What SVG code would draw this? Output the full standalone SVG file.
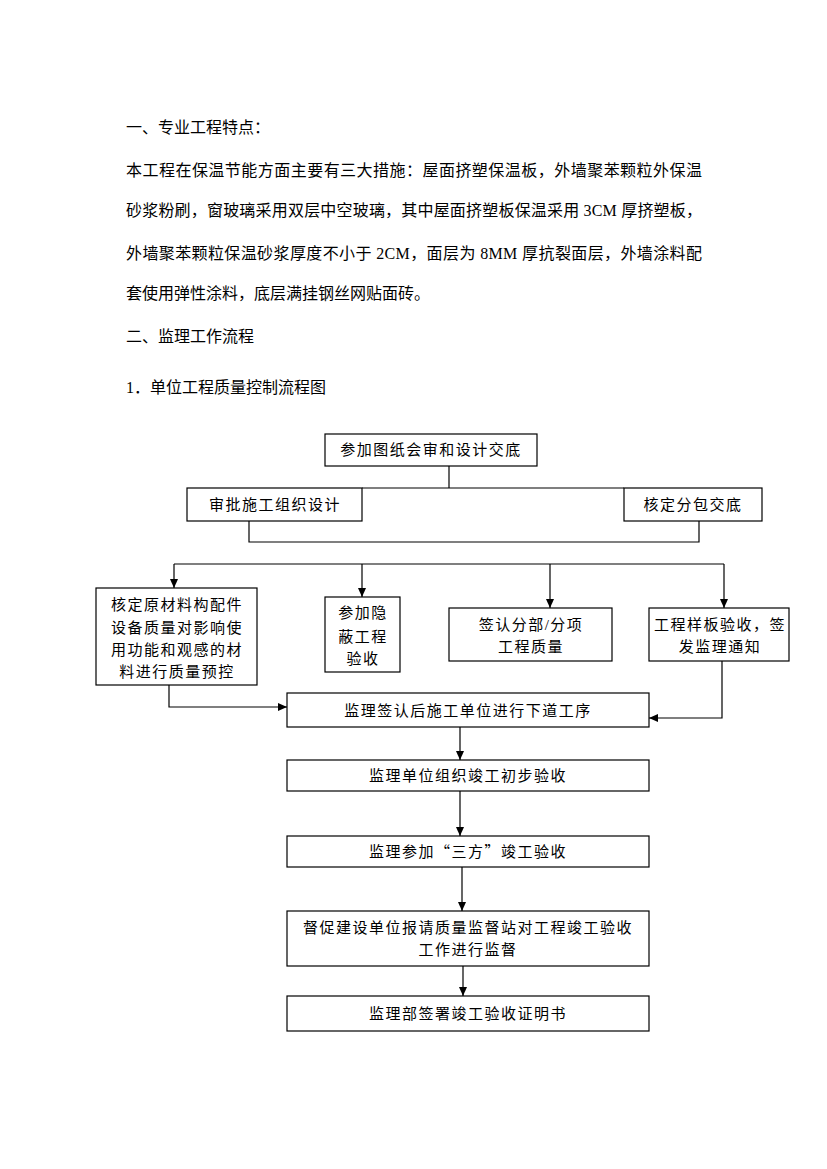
<svg xmlns="http://www.w3.org/2000/svg" width="827" height="1169" viewBox="0 0 827 1169">
<defs>
<marker id="arr" markerUnits="userSpaceOnUse" markerWidth="10" markerHeight="10" refX="9" refY="4" orient="auto">
<path d="M0,0 L9,4 L0,8 Z" fill="#000"/>
</marker>
<style>
.t{font-family:"Liberation Serif","Noto Sans CJK SC",serif;font-size:16px;fill:#000}
.n{font-family:"Liberation Serif","Noto Sans CJK SC",serif;font-size:15px;letter-spacing:1.5px;fill:#000;text-anchor:middle}
.q{font-family:"Noto Sans CJK SC",sans-serif}
.b{fill:#fff;stroke:#000;stroke-width:1.2}
.c{fill:none;stroke:#000;stroke-width:1.2}
.a{marker-end:url(#arr)}
</style>
</defs>
<rect width="827" height="1169" fill="#fff"/>
<g id="text">
<text class="t" x="126" y="133">一、专业工程特点：</text>
<text class="t" x="126" y="176" textLength="576" lengthAdjust="spacing">本工程在保温节能方面主要有三大措施：屋面挤塑保温板，外墙聚苯颗粒外保温</text>
<text class="t" x="126" y="216" textLength="576" lengthAdjust="spacing">砂浆粉刷，窗玻璃采用双层中空玻璃，其中屋面挤塑板保温采用 3CM 厚挤塑板，</text>
<text class="t" x="126" y="259" textLength="576" lengthAdjust="spacing">外墙聚苯颗粒保温砂浆厚度不小于 2CM，面层为 8MM 厚抗裂面层，外墙涂料配</text>
<text class="t" x="126" y="299">套使用弹性涂料，底层满挂钢丝网贴面砖。</text>
<text class="t" x="126" y="342">二、监理工作流程</text>
<text class="t" x="126" y="393">1．单位工程质量控制流程图</text>
</g>
<g id="connectors">
<line class="c" x1="449" y1="466" x2="449" y2="488"/>
<line class="c" x1="362" y1="488" x2="624" y2="488"/>
<polyline class="c" points="249,521 249,542 699,542 699,521"/>
<line class="c" x1="174" y1="564" x2="724" y2="564"/>
<line class="c a" x1="174" y1="564" x2="174" y2="588"/>
<line class="c a" x1="362" y1="564" x2="362" y2="597"/>
<line class="c a" x1="550" y1="564" x2="550" y2="608"/>
<line class="c a" x1="724" y1="564" x2="724" y2="608"/>
<polyline class="c a" points="169,685 169,707 287,707"/>
<polyline class="c a" points="722,661 722,718 649,718"/>
<line class="c a" x1="460" y1="727" x2="460" y2="760"/>
<line class="c a" x1="460" y1="791" x2="460" y2="836"/>
<line class="c a" x1="462" y1="867" x2="462" y2="911"/>
<line class="c a" x1="463" y1="966" x2="463" y2="996"/>
</g>
<g id="n1"><rect class="b" x="325" y="434" width="212" height="32"/><text class="n" x="431" y="455">参加图纸会审和设计交底</text></g>
<g id="n2"><rect class="b" x="187" y="488" width="175" height="33"/><text class="n" x="275" y="510">审批施工组织设计</text></g>
<g id="n3"><rect class="b" x="624" y="488" width="138" height="33"/><text class="n" x="693" y="510">核定分包交底</text></g>
<g id="n4"><rect class="b" x="96" y="588" width="161" height="97"/>
<text class="n" x="177" y="610">核定原材料构配件</text>
<text class="n" x="177" y="633">设备质量对影响使</text>
<text class="n" x="177" y="655">用功能和观感的材</text>
<text class="n" x="177" y="677">料进行质量预控</text></g>
<g id="n5"><rect class="b" x="325" y="597" width="75" height="75"/>
<text class="n" x="363" y="618">参加隐</text>
<text class="n" x="363" y="642">蔽工程</text>
<text class="n" x="363" y="664">验收</text></g>
<g id="n6"><rect class="b" x="449" y="608" width="163" height="53"/>
<text class="n" x="531" y="630">签认分部/分项</text>
<text class="n" x="531" y="652">工程质量</text></g>
<g id="n7"><rect class="b" x="649" y="608" width="140" height="53"/>
<text class="n" x="720" y="630">工程样板验收，签</text>
<text class="n" x="720" y="652">发监理通知</text></g>
<g id="n8"><rect class="b" x="287" y="693" width="362" height="34"/><text class="n" x="468" y="716">监理签认后施工单位进行下道工序</text></g>
<g id="n9"><rect class="b" x="287" y="760" width="362" height="31"/><text class="n" x="468" y="781">监理单位组织竣工初步验收</text></g>
<g id="n10"><rect class="b" x="287" y="836" width="362" height="31"/><text class="n" x="468" y="857">监理参加<tspan class="q">“</tspan>三方<tspan class="q">”</tspan>竣工验收</text></g>
<g id="n11"><rect class="b" x="287" y="911" width="362" height="55"/>
<text class="n" x="468" y="933">督促建设单位报请质量监督站对工程竣工验收</text>
<text class="n" x="468" y="955">工作进行监督</text></g>
<g id="n12"><rect class="b" x="287" y="996" width="362" height="35"/><text class="n" x="468" y="1019">监理部签署竣工验收证明书</text></g>
</svg>
